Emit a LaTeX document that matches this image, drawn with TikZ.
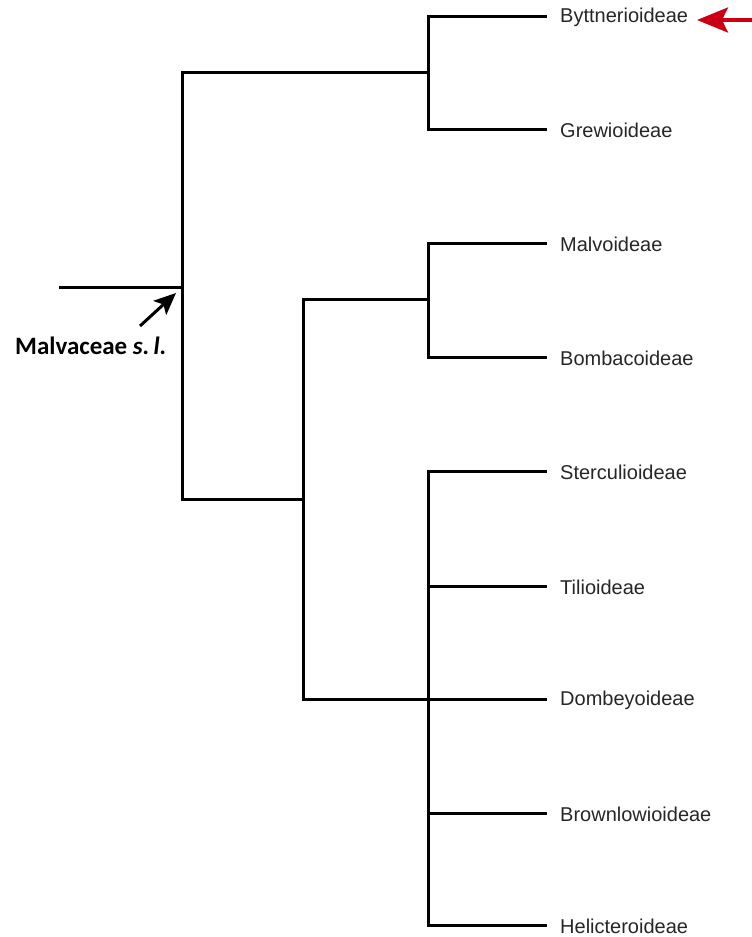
\documentclass[tikz,border=0pt]{standalone}
\usepackage{fontspec}
\setmainfont{Liberation Sans}
\newfontfamily\calfont{Carlito}
\usetikzlibrary{arrows.meta}
\definecolor{arrred}{RGB}{204,0,20}
\begin{document}
\begin{tikzpicture}[x=1pt,y=-1pt,
  branch/.style={line width=3pt,line cap=rect},
  leaf/.style={anchor=west,inner sep=0pt,font=\fontsize{20}{24}\selectfont,text=black!85},
  every node/.style={inner sep=0pt}]
\useasboundingbox (0,0) rectangle (752,937);
% coordinates
\coordinate (r0) at (60,287);
\coordinate (r1) at (182,287);
\coordinate (a) at (182,72);
\coordinate (b) at (182,499);
\coordinate (a1) at (428,72);
\coordinate (b1) at (303,499);
\coordinate (c) at (303,299);
\coordinate (d) at (303,699);
\coordinate (c1) at (428,299);
\coordinate (d1) at (428,699);
% leaves
\foreach \n/\y/\t in {L1/16/Byttnerioideae,L2/129/Grewioideae,L3/243/Malvoideae,L4/357/Bombacoideae,L5/471/Sterculioideae,L6/586/Tilioideae,L7/699/Dombeyoideae,L8/813/Brownlowioideae,L9/925/Helicteroideae}{
  \coordinate (\n s) at (428,\y);
  \coordinate (\n e) at (545,\y);
  \node[leaf] (\n) at (560,\y+1) {\t};
}
\draw[branch] (r0) -- (r1);
\draw[branch] (a) -- (b);
\draw[branch] (a) -- (a1);
\draw[branch] (L1s) -- (L2s);
\draw[branch] (b) -- (b1);
\draw[branch] (c) -- (d);
\draw[branch] (c) -- (c1);
\draw[branch] (L3s) -- (L4s);
\draw[branch] (d) -- (d1);
\draw[branch] (L5s) -- (L9s);
\foreach \n in {L1,L2,L3,L4,L5,L6,L7,L8,L9}{\draw[branch] (\n s) -- (\n e);}
% label
\node[anchor=west,font=\calfont\bfseries\fontsize{25}{30}\selectfont] (mal) at (15,346) {Malvaceae \textit{s.\,l.}};
\coordinate (bt) at (140,326);
\coordinate (bh) at (176,293);
\draw[line width=3pt,-{Stealth[length=22pt,width=19pt,inset=5pt]}] (bt) -- (bh);
\coordinate (rt) at (752,20);
\coordinate (rh) at (697,20);
\draw[arrred,line width=3.5pt,-{Stealth[length=31pt,width=25pt,inset=6pt]}] (rt) -- (rh);
\end{tikzpicture}
\end{document}
